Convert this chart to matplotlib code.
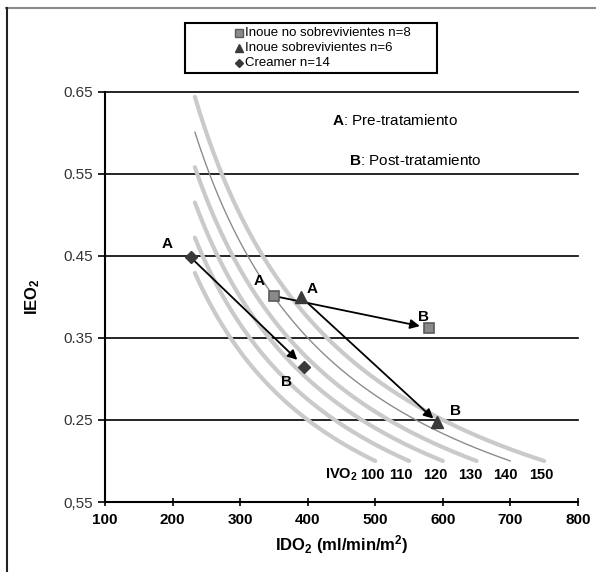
import numpy as np
import matplotlib
matplotlib.use("Agg")
import matplotlib.pyplot as plt
from matplotlib.lines import Line2D
from matplotlib.patches import Rectangle

plt.rcParams['font.family'] = ['Liberation Sans', 'DejaVu Sans']
plt.rcParams['mathtext.fontset'] = 'custom'
plt.rcParams['mathtext.rm'] = 'Liberation Sans'
plt.rcParams['mathtext.bf'] = 'Liberation Sans:bold'
plt.rcParams['mathtext.it'] = 'Liberation Sans:italic'

# ---- data ----
ivo2_levels = [100, 110, 120, 130, 140, 150]
thin_level = 140
ido2_start = 233
ieo2_end = 0.20

inoue_ns_ido2 = [350, 580]
inoue_ns_ieo2 = [0.401, 0.362]
inoue_s_ido2 = [390, 592]
inoue_s_ieo2 = [0.400, 0.247]
creamer_ido2 = [227, 395]
creamer_ieo2 = [0.448, 0.315]

x_ticks = [100, 200, 300, 400, 500, 600, 700, 800]
y_ticks = [0.15, 0.25, 0.35, 0.45, 0.55, 0.65]
y_ticklabels = ['0,55', '0.25', '0.35', '0.45', '0.55', '0.65']
grid_levels = [0.25, 0.35, 0.45, 0.55, 0.65]

W, H = 596, 572
fig = plt.figure(figsize=(W / 100, H / 100), dpi=100)
ax = fig.add_axes([105 / W, 1 - 502 / H, (578 - 105) / W, (502 - 91.7) / H])
ax.set_xlim(100, 800)
ax.set_ylim(0.15, 0.65)

# iso-VO2 curves
for lv in ivo2_levels:
    xs = np.linspace(ido2_start, lv / ieo2_end, 200)
    ys = lv / xs
    if lv == thin_level:
        ax.plot(xs, ys, color='#8c8c8c', lw=1.0, zorder=2, solid_capstyle='round')
    else:
        ax.plot(xs, ys, color='#cacaca', lw=3.0, zorder=2, solid_capstyle='round')

# horizontal grid lines
for g in grid_levels:
    ax.axhline(g, color='black', lw=1.2, zorder=1, clip_on=False)

# arrows
def arrow(xs, ys, shrinkB):
    ax.annotate('', xy=(xs[1], ys[1]), xytext=(xs[0], ys[0]),
                arrowprops=dict(arrowstyle='-|>', color='black', lw=1.3,
                                mutation_scale=14, shrinkA=0, shrinkB=shrinkB),
                zorder=4)

arrow(creamer_ido2, creamer_ieo2, 7)
arrow(inoue_ns_ido2, inoue_ns_ieo2, 7)
arrow(inoue_s_ido2, inoue_s_ieo2, 4)

# markers
ax.plot(inoue_ns_ido2, inoue_ns_ieo2, ls='none', marker='s', ms=7.5,
        mfc='#8a8a8a', mec='#5a5a5a', mew=1.2, zorder=5)
ax.plot(inoue_s_ido2, inoue_s_ieo2, ls='none', marker='^', ms=8.5,
        mfc='#3a3a3a', mec='#3a3a3a', zorder=5)
ax.plot(creamer_ido2, creamer_ieo2, ls='none', marker='D', ms=6.5,
        mfc='#3a3a3a', mec='#3a3a3a', zorder=5)

# A / B labels
lab_kw = dict(textcoords='offset points', ha='center', va='center',
              fontsize=11, fontweight='bold', zorder=6)
ax.annotate('A', (creamer_ido2[0], creamer_ieo2[0]), xytext=(-17, 10), **lab_kw)
ax.annotate('B', (creamer_ido2[1], creamer_ieo2[1]), xytext=(-13, -11), **lab_kw)
ax.annotate('A', (inoue_ns_ido2[0], inoue_ns_ieo2[0]), xytext=(-11, 11), **lab_kw)
ax.annotate('B', (inoue_ns_ido2[1], inoue_ns_ieo2[1]), xytext=(-4, 8), **lab_kw)
ax.annotate('A', (inoue_s_ido2[0], inoue_s_ieo2[0]), xytext=(8, 6), **lab_kw)
ax.annotate('B', (inoue_s_ido2[1], inoue_s_ieo2[1]), xytext=(13, 8.5), **lab_kw)

# Pre/Post text
ax.text(100 + (331.5 - 105) / 0.6757, 0.15 + (502 - 120) / 820.8,
        r'$\mathbf{A}$: Pre-tratamiento', fontsize=11, ha='left', va='center')
ax.text(100 + (349 - 105) / 0.6757, 0.15 + (502 - 160) / 820.8,
        r'$\mathbf{B}$: Post-tratamiento', fontsize=11, ha='left', va='center')

# IVO2 labels
ylab = 0.15 + (502 - 475) / 820.8
ax.text(100 + (325 - 105) / 0.6757, ylab, r'IVO$_\mathbf{2}$', fontsize=10.5,
        fontweight='bold', ha='left', va='center')
lab_px = [372, 401, 435, 470, 505, 541]
for lv, px in zip(ivo2_levels, lab_px):
    ax.text(100 + (px - 105) / 0.6757, ylab, str(lv), fontsize=10.5,
            fontweight='bold', ha='center', va='center')

# axes styling
for s in ['top', 'right']:
    ax.spines[s].set_visible(False)
for s in ['left', 'bottom']:
    ax.spines[s].set_linewidth(1.5)
ax.set_xticks(x_ticks)
ax.set_xticklabels([str(v) for v in x_ticks], fontsize=11, fontweight='bold')
ax.set_yticks(y_ticks)
ax.set_yticklabels(y_ticklabels, fontsize=11, color='#333333')
ax.tick_params(axis='y', direction='out', length=5, width=1.2, pad=4)
ax.tick_params(axis='x', direction='inout', length=6, width=1.2, pad=5)

ax.set_xlabel(r'IDO$_\mathbf{2}$ (ml/min/m$^\mathbf{2}$)', fontsize=12,
              fontweight='bold', labelpad=4)
ax.set_ylabel(r'IEO$_\mathbf{2}$', fontsize=12, fontweight='bold', labelpad=15)

# legend (manual box)
fig.patches.append(Rectangle((185 / W, 1 - 73 / H), (437 - 185) / W, (73 - 23) / H,
                             transform=fig.transFigure, fill=False,
                             edgecolor='black', lw=1.5))
leg_rows = [
    ('s', dict(mfc='#8a8a8a', mec='#5a5a5a', mew=1.0, ms=6), 'Inoue no sobrevivientes n=8'),
    ('^', dict(mfc='#3a3a3a', mec='#3a3a3a', ms=6), 'Inoue sobrevivientes n=6'),
    ('D', dict(mfc='#3a3a3a', mec='#3a3a3a', ms=4.5), 'Creamer n=14'),
]
for i, (m, kw, txt) in enumerate(leg_rows):
    yp = 1 - (33 + 15 * i) / H
    fig.add_artist(Line2D([239 / W], [yp], marker=m, ls='none',
                          transform=fig.transFigure, **kw))
    fig.text(245 / W, yp, txt, fontsize=9.5, ha='left', va='center')

# outer frame (top and left visible)
fig.add_artist(Line2D([6 / W, 1], [1 - 8 / H, 1 - 8 / H], color='#8a8a8a', lw=1.5,
                      transform=fig.transFigure))
fig.add_artist(Line2D([6.5 / W, 6.5 / W], [0, 1 - 8 / H], color='#222222', lw=1.5,
                      transform=fig.transFigure))

fig.savefig('out.png', dpi=100)
